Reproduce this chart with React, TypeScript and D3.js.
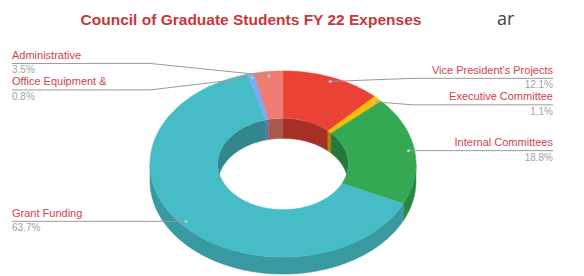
import React, { useMemo } from "react";
import * as d3 from "d3";

// chart data
const categories = [
  "Vice President's Projects",
  "Executive Committee",
  "Internal Committees",
  "Grant Funding",
  "Office Equipment &",
  "Administrative",
];
const shares = [12.1, 1.1, 18.8, 63.7, 0.8, 3.5];
const palette = ["#ea4335", "#fbbc04", "#34a853", "#46bdc6", "#7baaf7", "#f07b72"];
const title = "Council of Graduate Students FY 22 Expenses";

const W = 584;
const H = 276;

const App = () => {
  // 3d donut geometry
  const cx = 283;
  const cy = 164;
  const rx = 133;
  const tilt = 0.7;
  const hole = 0.49;
  const irx = rx * hole;
  const depth = 17;
  const anchorR = rx * 0.955;

  const pt = (a: number, r: number, dz: number): [number, number] => [
    cx + r * Math.sin(a),
    cy - r * tilt * Math.cos(a) + dz,
  ];
  const arcPts = (a0: number, a1: number, r: number, dz: number) => {
    const n = Math.max(2, Math.ceil(Math.abs(a1 - a0) * 50));
    return d3.range(n + 1).map((i) => pt(a0 + ((a1 - a0) * i) / n, r, dz));
  };
  const line = d3.line();

  const slices = useMemo(() => {
    const pie = d3
      .pie<number>()
      .sort(null)
      .value((d) => d)
      .startAngle(0)
      .endAngle(2 * Math.PI);
    return pie(shares).map((s, i) => ({ ...s, name: categories[i], color: palette[i] }));
  }, []);

  const clipRange = (a0: number, a1: number, lo: number, hi: number) => {
    const s = Math.max(a0, lo);
    const e = Math.min(a1, hi);
    return s < e ? [s, e] : null;
  };

  // label layout: spread colliding labels on each side
  const labels = useMemo(() => {
    const items = slices.map((s) => {
      const mid = (s.startAngle + s.endAngle) / 2;
      const [ax, ay] = pt(mid, anchorR, 0);
      return { name: s.name, value: s.value, ax, ay, right: Math.sin(mid) >= 0, y: ay };
    });
    const gap = 26.5;
    [true, false].forEach((side) => {
      const group = items.filter((d) => d.right === side).sort((a, b) => a.ay - b.ay);
      let clusters = group.map((d) => ({ members: [d], center: d.ay }));
      let merged = true;
      while (merged) {
        merged = false;
        for (let i = 0; i < clusters.length - 1; i++) {
          const a = clusters[i];
          const b = clusters[i + 1];
          const aEnd = a.center + ((a.members.length - 1) * gap) / 2;
          const bStart = b.center - ((b.members.length - 1) * gap) / 2;
          if (bStart - aEnd < gap) {
            const members = a.members.concat(b.members);
            clusters.splice(i, 2, { members, center: d3.mean(members, (m) => m.ay) as number });
            merged = true;
            break;
          }
        }
      }
      clusters.forEach((c) => {
        c.members.forEach((m, j) => {
          m.y = c.center - ((c.members.length - 1) * gap) / 2 + j * gap;
        });
      });
    });
    return items;
  }, [slices]);

  const leftX = 12;
  const rightX = 553;
  const elbowL = cx - rx;
  const elbowR = cx + rx - 3;

  return (
    <svg
      width={W}
      height={H}
      style={{ position: "absolute", left: 0, top: 0, background: "#fff" }}
      fontFamily="'Liberation Sans', Arial, sans-serif"
    >
      <defs>
        <clipPath id="holeClip">
          <ellipse cx={cx} cy={cy} rx={irx} ry={irx * tilt} />
        </clipPath>
      </defs>

      <text x={251} y={25} textAnchor="middle" fontSize={15.5} fontWeight="bold" fill="#c6373c">
        {title}
      </text>
      <text x={497} y={25} fontSize={18} fill="#444" fontFamily="'Open Sans', sans-serif">
        ar
      </text>

      {/* outer side walls (front half) */}
      {slices.map((s, i) => {
        const r = clipRange(s.startAngle, s.endAngle, Math.PI / 2, (3 * Math.PI) / 2);
        if (!r) return null;
        const pts = arcPts(r[0], r[1], rx, 0).concat(arcPts(r[1], r[0], rx, depth));
        const c = d3.color(s.color)!.darker(0.6).formatHex();
        return <path key={"side" + i} d={line(pts) + "Z"} fill={c} stroke={c} strokeWidth={0.5} />;
      })}

      {/* top face */}
      {slices.map((s, i) => {
        const pts = arcPts(s.startAngle, s.endAngle, rx, 0).concat(
          arcPts(s.endAngle, s.startAngle, irx, 0)
        );
        return <path key={"top" + i} d={line(pts) + "Z"} fill={s.color} stroke={s.color} strokeWidth={0.5} />;
      })}

      {/* inner walls seen through the hole (back half) */}
      <g clipPath="url(#holeClip)">
        {slices.map((s, i) => {
          const c = d3.color(s.color)!.darker(0.95).formatHex();
          return [
            [0, Math.PI / 2],
            [(3 * Math.PI) / 2, 2 * Math.PI],
          ].map(([lo, hi], j) => {
            const r = clipRange(s.startAngle, s.endAngle, lo, hi);
            if (!r) return null;
            const pts = arcPts(r[0], r[1], irx, 0).concat(arcPts(r[1], r[0], irx, depth + 3));
            return <path key={"in" + i + "-" + j} d={line(pts) + "Z"} fill={c} stroke={c} strokeWidth={0.5} />;
          });
        })}
      </g>

      {/* leader lines and labels */}
      {labels.map((d, i) => {
        const elbow = d.right ? elbowR : elbowL;
        const end = d.right ? rightX : leftX;
        const bend: [number, number][] =
          Math.abs(d.ay - d.y) < 1 ? [] : [[elbow, d.y]];
        const pts: [number, number][] = [[d.ax, d.ay], ...bend, [end, d.y]];
        return (
          <g key={"lab" + i}>
            <path d={line(pts) ?? ""} fill="none" stroke="#9a9a9a" strokeWidth={1} />
            <circle cx={d.ax} cy={d.ay} r={1.5} fill="#c8c8c8" />
            <text
              x={end}
              y={d.y - 4.5}
              textAnchor={d.right ? "end" : "start"}
              fontSize={11}
              fill="#d0434c"
            >
              {d.name}
            </text>
            <text
              x={end}
              y={d.y + 10}
              textAnchor={d.right ? "end" : "start"}
              fontSize={10}
              fill="#a3a3a3"
            >
              {d3.format(".1f")(d.value)}%
            </text>
          </g>
        );
      })}
    </svg>
  );
};

export default App;
